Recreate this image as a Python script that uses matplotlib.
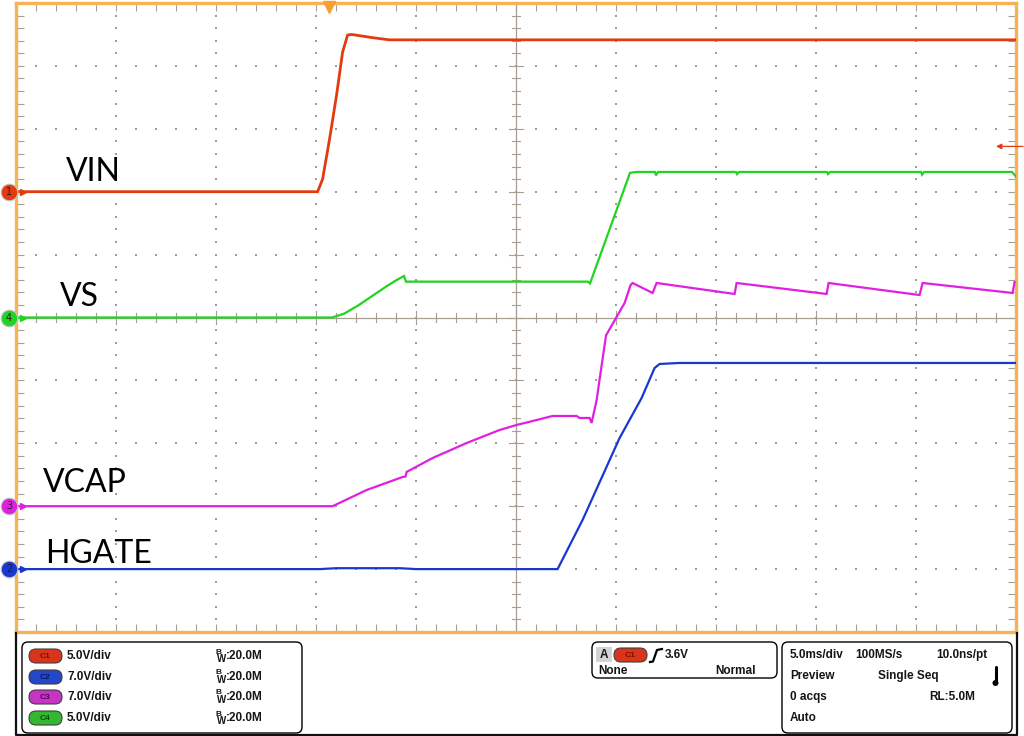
import matplotlib
matplotlib.use("Agg")
import matplotlib.pyplot as plt
import matplotlib.patches as patches
import numpy as np

# time in ms from the left edge of the screen (5.0 ms/div, 10 div)
vin_t = [0, 15.08, 15.33, 15.68, 16.03, 16.33, 16.58, 16.78, 17.8, 18.67, 50]
vin_v = [0, 0, 1.0, 4.2, 7.7, 11.1, 12.45, 12.5, 12.25, 12.07, 12.07]

vs_t = [0, 15.8, 16.4, 17.1, 17.8, 18.5, 19.0, 19.4, 19.5, 28.6, 28.7, 30.7, 31.0,
        31.95, 32.0, 32.1, 36.0, 36.05, 36.15, 40.55, 40.6, 40.7, 45.25, 45.3,
        45.4, 49.8, 50]
vs_v = [0, 0, 0.3, 0.95, 1.7, 2.45, 2.95, 3.3, 2.85, 2.85, 2.7, 11.5, 11.57,
        11.57, 11.3, 11.57, 11.57, 11.4, 11.57, 11.57, 11.4, 11.57, 11.57, 11.35,
        11.57, 11.57, 11.2]

vcap_t = [0, 15.83, 17.53, 19.33, 19.48, 19.53, 20.83, 22.53, 24.18, 25.03,
          25.83, 26.83, 28.03, 28.18, 28.68, 28.78, 29.03, 29.5, 30.03, 30.43,
          30.73, 30.83, 31.83, 32.03, 35.93, 36.03, 40.53, 40.63, 45.18, 45.33,
          49.83, 49.93]
vcap_v = [0, 0, 1.8, 3.25, 3.3, 3.81, 5.36, 7.03, 8.48, 9.04,
          9.48, 10.04, 10.04, 9.82, 9.82, 9.26, 11.8, 19.0, 21.06, 22.61,
          24.62, 24.84, 23.73, 24.84, 23.62, 24.84, 23.62, 24.84, 23.5, 24.84,
          23.73, 24.95]

hg_t = [0, 15.2, 16.0, 19.2, 20.0, 27.08, 28.33, 30.18, 31.28, 31.93, 32.18, 33.18, 50]
hg_v = [0, 0, 0.1, 0.1, 0, 0, 5.47, 14.59, 19.04, 22.38, 22.83, 22.94, 22.94]

# name, number, time, volts, V/div, ground offset (div), color
channels = [
    ("VIN", "1", vin_t, vin_v, 5.0, 2, "#e33b10"),
    ("VS", "4", vs_t, vs_v, 5.0, 0, "#22d422"),
    ("VCAP", "3", vcap_t, vcap_v, 7.0, -3, "#e020e0"),
    ("HGATE", "2", hg_t, hg_v, 7.0, -4, "#1838d0"),
]
label_pos = {"VIN": (66, 172), "VS": (60, 297), "VCAP": (43, 483), "HGATE": (45, 554)}

TRIG_T = 15.65
TRIG_LEVEL = 3.6

ORANGE = "#f6b257"
GRID = "#9c9c9c"
TICK = "#a89f92"

W, H = 1024, 736
fig = plt.figure(figsize=(W / 100, H / 100), dpi=100)
fig.patch.set_facecolor("white")

top_px, bot_px = 3, 632
ax = fig.add_axes([16 / W, (H - bot_px) / H, 1000 / W, (bot_px - top_px) / H])
ax.set_xlim(0, 50)
ax.set_ylim(-5, 5)
ax.set_xticks(np.arange(0, 51, 5))
ax.set_xticks(np.arange(0, 51, 1), minor=True)
ax.set_yticks(np.arange(-5, 6, 1))
ax.set_yticks(np.arange(-5, 5.01, 0.2), minor=True)
ax.tick_params(which="both", direction="in", length=5.5, width=0.8, color=TICK,
               top=True, right=True, labelbottom=False, labelleft=False)
for s in ax.spines.values():
    s.set_color(ORANGE)
    s.set_linewidth(2.4)

# graticule dots
ys = np.arange(-5, 5.01, 0.2)
xs = np.arange(0, 50.01, 1)
for gx in range(5, 50, 5):
    if gx != 25:
        ax.scatter(np.full(len(ys), gx), ys, s=1.2, marker="s", color=GRID, linewidths=0, zorder=1)
for gy in range(-4, 5):
    if gy != 0:
        ax.scatter(xs, np.full(len(xs), gy), s=1.2, marker="s", color=GRID, linewidths=0, zorder=1)

# center cross with ticks
ax.axhline(0, color=TICK, lw=0.9, zorder=1)
ax.axvline(25, color=TICK, lw=0.9, zorder=1)
for x in xs:
    h = 0.11 if x % 5 == 0 else 0.065
    ax.plot([x, x], [-h, h], color=TICK, lw=0.8, zorder=1)
for y in ys:
    h = 0.35 if abs(y - round(y)) < 1e-6 else 0.2
    ax.plot([25 - h, 25 + h], [y, y], color=TICK, lw=0.8, zorder=1)

# traces
for name, num, t, v, scale, off, col in channels:
    y = np.array(v) / scale + off
    ax.plot(t, y, color=col, lw=2.0 if name == "VIN" else 1.6, zorder=3,
            solid_joinstyle="miter")
    ax.plot([-0.35], [off], marker="o", ms=12, color=col, mec="#c8c8c8", mew=0.8,
            clip_on=False, zorder=5)
    ax.plot([0.35], [off], marker=">", ms=5, color=col, clip_on=False, zorder=5)
    ax.text(-0.35, off, num, ha="center", va="center", fontsize=7, color="#202020",
            clip_on=False, zorder=6)

# trigger position and level
ax.plot([TRIG_T], [4.93], marker="v", ms=8, color="#f5a030", clip_on=False, zorder=6)
lvl = TRIG_LEVEL / 5.0 + 2
ax.annotate("", xy=(49.0, lvl), xytext=(50.35, lvl), annotation_clip=False,
            arrowprops=dict(arrowstyle="-|>", color="#e33b10", lw=0.9,
                            mutation_scale=8, shrinkA=0, shrinkB=0))

# overlay in pixel coordinates for labels and the readout panel
ui = fig.add_axes([0, 0, 1, 1])
ui.set_xlim(0, W)
ui.set_ylim(H, 0)
ui.axis("off")
ui.patch.set_alpha(0)

for name, (px, py) in label_pos.items():
    ui.text(px, py, name, fontsize=23, family="Lato", ha="left", va="center", color="black")

# panel frame
ui.plot([16, 16, 1017, 1017], [633, 735, 735, 633], color="#101010", lw=1.6)


def box(x0, y0, x1, y1):
    ui.add_patch(patches.FancyBboxPatch((x0, y0), x1 - x0, y1 - y0,
                                        boxstyle="round,pad=0,rounding_size=6",
                                        fc="white", ec="black", lw=1.0))


def pill(x0, y0, col, txt, tcol):
    ui.add_patch(patches.FancyBboxPatch((x0, y0), 33, 14,
                                        boxstyle="round,pad=0,rounding_size=7",
                                        fc=col, ec="#404040", lw=0.8))
    ui.text(x0 + 16.5, y0 + 7.5, txt, fontsize=6, color=tcol, ha="center", va="center",
            family="Liberation Sans", weight="bold")


def label(x, y, s, **kw):
    ui.text(x, y, s, fontsize=8.5, family="Liberation Sans", weight="bold",
            ha="left", va="center", color="#151515", **kw)


box(22, 642, 302, 733)
box(592, 642, 777, 678)
box(782, 642, 1012, 733)

pill_rows = [("C1", "#d9351c", "#7a1000", "5.0V/div", 656),
             ("C2", "#2446c8", "#0a1a60", "7.0V/div", 677),
             ("C3", "#c634c6", "#5a005a", "7.0V/div", 697),
             ("C4", "#34b834", "#0a500a", "5.0V/div", 718)]
for txt, col, tcol, vdiv, yc in pill_rows:
    pill(29, yc - 7, col, txt, tcol)
    label(67, yc, vdiv)
    ui.text(215, yc - 4, "B", fontsize=6, family="Liberation Sans", weight="bold",
            ha="left", va="center", color="#151515")
    ui.text(217, yc + 3, "W", fontsize=7, family="Liberation Sans", weight="bold",
            ha="left", va="center", color="#151515")
    label(226, yc, ":20.0M")

# trigger box
ui.add_patch(patches.Rectangle((596, 647), 16, 15, fc="#d4d4d4", ec="none"))
label(600, 655, "A")
pill(614, 648, "#d9351c", "C1", "#7a1000")
ui.plot([650, 653, 657, 662], [662, 661.5, 650, 649], color="black", lw=1.6)
label(665, 655, "3.6V")
label(598, 671, "None")
label(715, 671, "Normal")

# acquisition box
label(790, 655, "5.0ms/div")
label(855, 655, "100MS/s")
label(936, 655, "10.0ns/pt")
label(790, 676, "Preview")
label(878, 676, "Single Seq")
label(790, 697, "0 acqs")
label(929, 697, "RL:5.0M")
label(790, 718, "Auto")
ui.plot([995.5, 995.5], [667, 681], color="black", lw=2.2, solid_capstyle="round")
ui.add_patch(patches.Circle((995.5, 683), 3, fc="black", ec="none"))

fig.savefig("out.png", dpi=100, facecolor="white")
